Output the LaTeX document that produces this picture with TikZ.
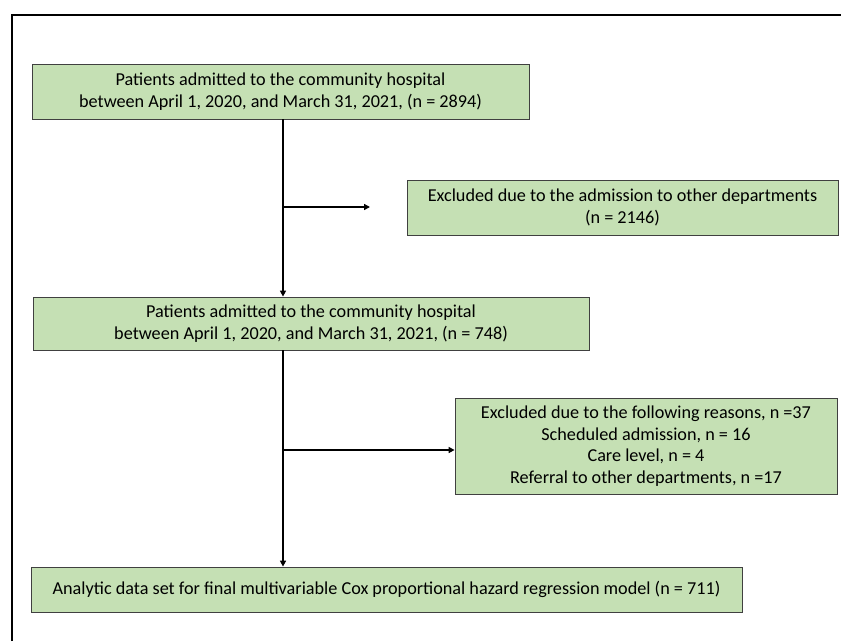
\documentclass[tikz,border=0pt]{standalone}
\usepackage{fontspec}
\setmainfont{Carlito}
\usetikzlibrary{arrows.meta}
\definecolor{boxgreen}{HTML}{C5E0B4}
\begin{document}
\begin{tikzpicture}[x=1pt, y=-1pt,
				cell/.style={rectangle, draw=black!75, fill=boxgreen, line width=0.8pt, inner sep=0pt, align=center, font=\fontsize{18.2}{21.5}\selectfont},
				link/.style={line width=1.8pt, -{Triangle[length=6pt, width=6pt]}}
				]
				\useasboundingbox (0,0) rectangle (841,641);
				\draw[line width=1.2pt] (12,641) -- (12,15) -- (841,15);
				\node[cell, minimum width=497pt, minimum height=55pt] (admitted) at (280.5,91.5) {Patients admitted to the community hospital\\between April 1, 2020, and March 31, 2021, (n = 2894)};
				\node[cell, minimum width=431pt, minimum height=55pt] (otherdept) at (622.5,207.5) {Excluded due to the admission to other departments\\(n = 2146)};
				\node[cell, minimum width=556pt, minimum height=53pt] (screened) at (311,323.5) {Patients admitted to the community hospital\\between April 1, 2020, and March 31, 2021, (n = 748)};
				\node[cell, minimum width=382pt, minimum height=96pt] (reasons) at (646,446) {Excluded due to the following reasons, n =37\\Scheduled admission, n = 16\\Care level, n = 4\\Referral to other departments, n =17};
				\node[cell, minimum width=711pt, minimum height=45pt] (analytic) at (386.5,589.5) {Analytic data set for final multivariable Cox proportional hazard regression model (n = 711)};
				\coordinate (gap) at (370,207);
				\coordinate (branch) at (283,450);
				\draw[link] (branch |- admitted.south) -- (branch |- screened.north);
				\draw[link] (branch |- gap) -- (gap);
				\draw[link] (branch |- screened.south) -- (branch |- analytic.north);
				\draw[link] (branch) -- (branch -| reasons.west);
			\end{tikzpicture}
\end{document}
